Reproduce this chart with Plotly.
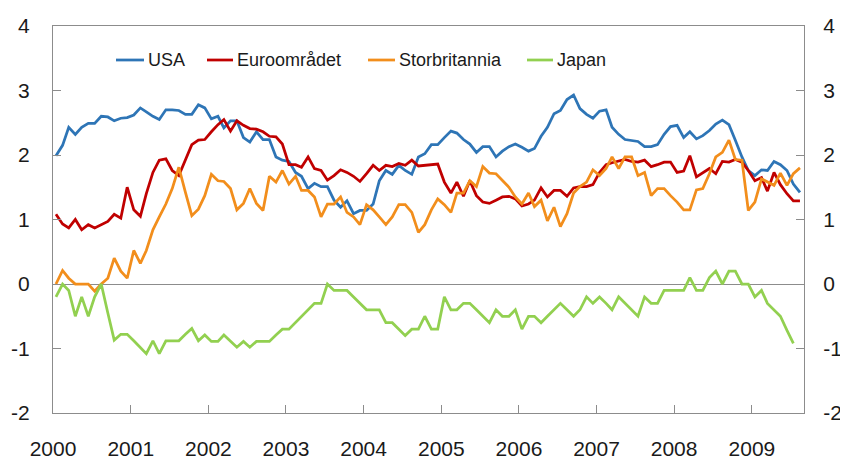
import pandas as pd
import plotly.graph_objects as go

# Monthly observations, Jan 2000 - Aug 2009 (Japan through Jul 2009)
months = pd.date_range("2000-01-01", periods=116, freq="MS") + pd.Timedelta(days=14)

usa = [1.99, 2.15, 2.43, 2.32, 2.43, 2.49, 2.49, 2.60, 2.59, 2.53, 2.57, 2.58,
       2.62, 2.73, 2.67, 2.60, 2.55, 2.70, 2.70, 2.69, 2.63, 2.63, 2.78, 2.73,
       2.56, 2.60, 2.42, 2.53, 2.53, 2.27, 2.20, 2.36, 2.24, 2.24, 1.97, 1.92,
       1.90, 1.73, 1.67, 1.48, 1.56, 1.51, 1.51, 1.30, 1.19, 1.29, 1.09, 1.14,
       1.14, 1.24, 1.60, 1.76, 1.70, 1.84, 1.76, 1.70, 1.97, 2.02, 2.16, 2.16,
       2.27, 2.37, 2.34, 2.24, 2.17, 2.04, 2.13, 2.13, 1.97, 2.06, 2.13, 2.17,
       2.12, 2.06, 2.10, 2.29, 2.43, 2.64, 2.69, 2.86, 2.93, 2.72, 2.63, 2.57,
       2.68, 2.70, 2.43, 2.32, 2.24, 2.23, 2.21, 2.13, 2.13, 2.16, 2.32, 2.44,
       2.46, 2.27, 2.36, 2.25, 2.30, 2.38, 2.48, 2.54, 2.47, 2.23, 1.97, 1.76,
       1.68, 1.77, 1.76, 1.90, 1.85, 1.76, 1.55, 1.42]

euro = [1.08, 0.93, 0.87, 1.00, 0.84, 0.92, 0.87, 0.92, 0.97, 1.08, 1.02, 1.50,
        1.15, 1.05, 1.40, 1.73, 1.92, 1.94, 1.76, 1.68, 1.92, 2.16, 2.23, 2.24,
        2.36, 2.47, 2.55, 2.37, 2.53, 2.46, 2.41, 2.40, 2.36, 2.29, 2.28, 2.17,
        1.85, 1.85, 1.81, 1.97, 1.79, 1.76, 1.61, 1.68, 1.77, 1.73, 1.67, 1.59,
        1.71, 1.84, 1.76, 1.84, 1.82, 1.87, 1.84, 1.92, 1.83, 1.84, 1.85, 1.86,
        1.58, 1.41, 1.58, 1.36, 1.60, 1.37, 1.27, 1.25, 1.30, 1.35, 1.36, 1.32,
        1.21, 1.24, 1.30, 1.49, 1.35, 1.45, 1.45, 1.36, 1.49, 1.51, 1.51, 1.54,
        1.73, 1.85, 1.88, 1.90, 1.93, 1.90, 1.89, 1.92, 1.82, 1.85, 1.89, 1.89,
        1.73, 1.75, 1.99, 1.66, 1.73, 1.79, 1.71, 1.90, 1.89, 1.93, 1.89, 1.76,
        1.60, 1.65, 1.44, 1.73, 1.54, 1.40, 1.29, 1.29]

uk = [0.00, 0.21, 0.09, 0.00, 0.00, 0.00, -0.11, 0.00, 0.09, 0.40, 0.20, 0.09,
      0.52, 0.32, 0.52, 0.84, 1.04, 1.24, 1.48, 1.81, 1.42, 1.06, 1.16, 1.37,
      1.70, 1.60, 1.59, 1.48, 1.15, 1.25, 1.48, 1.25, 1.14, 1.67, 1.58, 1.76,
      1.55, 1.67, 1.45, 1.45, 1.35, 1.04, 1.24, 1.24, 1.35, 1.11, 1.04, 0.92,
      1.23, 1.15, 1.04, 0.92, 1.04, 1.23, 1.23, 1.11, 0.80, 0.92, 1.15, 1.32,
      1.23, 1.11, 1.41, 1.41, 1.60, 1.51, 1.82, 1.72, 1.71, 1.60, 1.50, 1.35,
      1.24, 1.41, 1.20, 1.30, 0.98, 1.19, 0.89, 1.09, 1.41, 1.51, 1.58, 1.77,
      1.68, 1.79, 1.97, 1.79, 1.97, 1.97, 1.68, 1.73, 1.37, 1.48, 1.48, 1.37,
      1.27, 1.15, 1.15, 1.46, 1.48, 1.71, 1.97, 2.04, 2.23, 1.93, 1.92, 1.14,
      1.27, 1.63, 1.58, 1.53, 1.72, 1.53, 1.71, 1.80]

japan = [-0.2, 0.0, -0.1, -0.5, -0.2, -0.5, -0.2, 0.0, -0.45, -0.87, -0.78, -0.78,
         -0.88, -0.98, -1.08, -0.88, -1.08, -0.88, -0.88, -0.88, -0.78, -0.69, -0.88, -0.79,
         -0.89, -0.89, -0.79, -0.89, -0.98, -0.89, -0.98, -0.89, -0.89, -0.89, -0.79, -0.7,
         -0.7, -0.6, -0.5, -0.4, -0.3, -0.3, 0.0, -0.1, -0.1, -0.1, -0.2, -0.3,
         -0.4, -0.4, -0.4, -0.6, -0.6, -0.7, -0.8, -0.7, -0.7, -0.5, -0.7, -0.7,
         -0.2, -0.4, -0.4, -0.3, -0.3, -0.4, -0.5, -0.6, -0.4, -0.5, -0.5, -0.4,
         -0.7, -0.5, -0.5, -0.6, -0.5, -0.4, -0.3, -0.4, -0.5, -0.4, -0.2, -0.3,
         -0.2, -0.3, -0.4, -0.2, -0.3, -0.4, -0.5, -0.2, -0.3, -0.3, -0.1, -0.1,
         -0.1, -0.1, 0.1, -0.1, -0.1, 0.1, 0.2, 0.0, 0.2, 0.2, 0.0, 0.0,
         -0.2, -0.1, -0.3, -0.4, -0.5, -0.72, -0.92]

series_names = ["USA", "Euroområdet", "Storbritannia", "Japan"]
series_colors = ["#2E75B6", "#C00000", "#F28E1C", "#92D050"]
year_ticks = [str(y) for y in range(2000, 2010)]
y_ticks = [-2, -1, 0, 1, 2, 3, 4]

FONT = "Liberation Sans"
TXT = "#1a1a1a"
AX = "#8c8c8c"

fig = go.Figure()
for name, vals, col in zip(series_names, [usa, euro, uk, japan], series_colors):
    fig.add_trace(go.Scatter(x=months[:len(vals)], y=vals, mode="lines", name=name,
                             line=dict(color=col, width=2.75), showlegend=False,
                             yaxis="y2" if name == "Japan" else "y"))

yax = dict(range=[-2, 4], tickvals=y_ticks, ticktext=[str(v) for v in y_ticks],
           showgrid=False, ticks="inside", ticklen=8, tickcolor=AX, tickwidth=1,
           showline=True, linecolor=AX, linewidth=1, automargin=False,
           tickfont=dict(family=FONT, size=21, color=TXT))

# page body has an 8px margin, so the figure is 8px smaller and margins shifted
fig.update_layout(
    width=840, height=455,
    margin=dict(l=45, r=44, t=18, b=50, autoexpand=False),
    paper_bgcolor="white", plot_bgcolor="white",
    xaxis=dict(range=["2000-01-01", "2009-09-03"], type="date",
               tickvals=[f"{y}-01-01" for y in year_ticks], ticktext=year_ticks,
               showgrid=False, ticks="inside", ticklen=8, tickcolor=AX, automargin=False,
               showline=True, linecolor=AX, linewidth=1, mirror=True,
               tickfont=dict(family=FONT, size=21, color=TXT), ticklabelstandoff=17),
    yaxis=dict(**yax, zeroline=True, zerolinecolor=AX, zerolinewidth=1, ticklabelstandoff=18),
    yaxis2=dict(**yax, overlaying="y", side="right", zeroline=False, ticklabelstandoff=14),
)

# Manual legend (reference pixel positions converted to paper coords)
def px(x):
    return (x - 53.0) / 751.0

def py(y):
    return (413.0 - y) / 387.0

leg = [(116, 144, 146), (207, 233, 235), (368, 395, 397), (527, 553, 555)]
for (x0, x1, xt), name, col in zip(leg, series_names, series_colors):
    fig.add_shape(type="line", xref="paper", yref="paper", x0=px(x0), x1=px(x1),
                  y0=py(60), y1=py(60), line=dict(color=col, width=2.75))
    fig.add_annotation(xref="paper", yref="paper", x=px(xt), y=py(60), text=name,
                       showarrow=False, xanchor="left", yanchor="middle",
                       font=dict(family=FONT, size=18, color=TXT))

fig.write_html("out.html")
